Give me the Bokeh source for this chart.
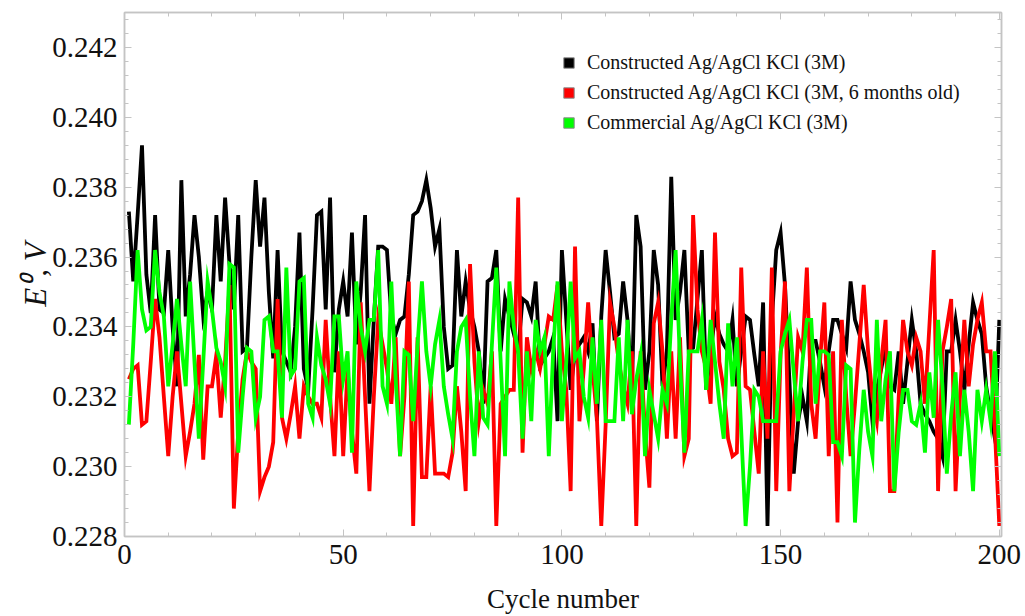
from bokeh.plotting import figure
from bokeh.models import (Range1d, FixedTicker, LinearAxis, Legend, LegendItem)
from bokeh.embed import file_html
from bokeh.resources import INLINE

cycles = list(range(1, 201))

constructed = [
    .2373, .2353, .2372, .2392, .2355, .2344, .2372, .2345, .2344, .2362,
    .2340, .2323, .2382, .2343, .2355, .2372, .2360, .2343, .2350, .2345,
    .2372, .2353, .2377, .2358, .2345, .2372, .2333, .2334, .2360, .2382,
    .2363, .2377, .2350, .2331, .2362, .2333, .2330, .2327, .2340, .2367,
    .2328, .2322, .2345, .2372, .2373, .2345, .2377, .2327, .2345, .2353,
    .2343, .2367, .2335, .2350, .2372, .2318, .2342, .2363, .2363, .2362,
    .2343, .2338, .2342, .2343, .2355, .2372, .2373, .2376, .2382, .2374,
    .2363, .2368, .2340, .2328, .2329, .2362, .2343, .2353, .2345, .2340,
    .2333, .2318, .2353, .2354, .2362, .2333, .2348, .2343, .2338, .2333,
    .2348, .2347, .2343, .2353, .2329, .2331, .2333, .2337, .2313, .2362,
    .2342, .2322, .2333, .2335, .2337, .2333, .2341, .2313, .2343, .2362,
    .2350, .2337, .2338, .2353, .2342, .2322, .2372, .2363, .2322, .2333,
    .2362, .2352, .2323, .2333, .2383, .2342, .2350, .2362, .2333, .2334,
    .2348, .2362, .2322, .2333, .2343, .2338, .2335, .2333, .2342, .2323,
    .2333, .2343, .2342, .2332, .2323, .2347, .2283, .2342, .2362, .2367,
    .2352, .2325, .2298, .2313, .2320, .2313, .2336, .2336, .2330, .2323,
    .2333, .2342, .2342, .2338, .2334, .2353, .2342, .2338, .2333, .2327,
    .2313, .2322, .2328, .2334, .2323, .2322, .2333, .2318, .2330, .2342,
    .2333, .2318, .2315, .2313, .2310, .2308, .2303, .2333, .2333, .2342,
    .2333, .2322, .2335, .2347, .2342, .2338, .2323, .2315, .2308, .2342,
]

aged = [
    .2325, .2328, .2329, .2312, .2313, .2330, .2348, .2337, .2320, .2303,
    .2320, .2333, .2318, .2303, .2310, .2318, .2332, .2302, .2323, .2323,
    .2332, .2314, .2330, .2352, .2288, .2310, .2325, .2333, .2330, .2328,
    .2293, .2297, .2300, .2307, .2348, .2314, .2308, .2315, .2323, .2308,
    .2323, .2320, .2318, .2318, .2314, .2342, .2320, .2303, .2333, .2303,
    .2328, .2310, .2298, .2347, .2320, .2293, .2320, .2342, .2335, .2328,
    .2318, .2337, .2303, .2320, .2353, .2283, .2337, .2297, .2297, .2323,
    .2298, .2298, .2298, .2297, .2304, .2323, .2310, .2293, .2358, .2330,
    .2313, .2322, .2318, .2333, .2283, .2318, .2320, .2322, .2322, .2377,
    .2304, .2337, .2328, .2333, .2328, .2335, .2343, .2342, .2352, .2333,
    .2322, .2293, .2363, .2313, .2328, .2347, .2328, .2314, .2283, .2312,
    .2347, .2340, .2330, .2323, .2318, .2333, .2283, .2333, .2310, .2294,
    .2341, .2347, .2333, .2308, .2333, .2308, .2337, .2303, .2308, .2372,
    .2345, .2333, .2328, .2318, .2367, .2330, .2322, .2308, .2303, .2304,
    .2357, .2323, .2322, .2310, .2298, .2333, .2308, .2357, .2293, .2332,
    .2353, .2293, .2315, .2337, .2333, .2357, .2318, .2308, .2330, .2347,
    .2303, .2333, .2284, .2342, .2320, .2303, .2318, .2335, .2352, .2333,
    .2320, .2313, .2330, .2342, .2293, .2293, .2320, .2342, .2333, .2329,
    .2337, .2333, .2318, .2340, .2362, .2293, .2333, .2340, .2348, .2293,
    .2320, .2342, .2323, .2335, .2342, .2347, .2333, .2333, .2310, .2283,
]

commercial = [
    .2312, .2335, .2362, .2345, .2339, .2340, .2362, .2350, .2343, .2323,
    .2335, .2348, .2335, .2323, .2353, .2330, .2308, .2330, .2353, .2345,
    .2334, .2330, .2323, .2358, .2357, .2304, .2320, .2334, .2333, .2314,
    .2320, .2342, .2343, .2333, .2333, .2314, .2357, .2326, .2328, .2353,
    .2354, .2318, .2314, .2337, .2329, .2325, .2318, .2343, .2343, .2325,
    .2333, .2304, .2353, .2340, .2333, .2342, .2342, .2362, .2323, .2318,
    .2353, .2325, .2303, .2333, .2332, .2313, .2335, .2353, .2333, .2323,
    .2335, .2342, .2323, .2315, .2308, .2333, .2340, .2342, .2320, .2303,
    .2333, .2314, .2312, .2335, .2357, .2330, .2303, .2353, .2340, .2333,
    .2308, .2333, .2313, .2342, .2333, .2337, .2303, .2333, .2353, .2313,
    .2330, .2353, .2331, .2333, .2320, .2314, .2337, .2318, .2342, .2313,
    .2313, .2313, .2337, .2313, .2342, .2315, .2325, .2332, .2303, .2322,
    .2315, .2308, .2322, .2318, .2342, .2362, .2330, .2304, .2333, .2333,
    .2333, .2342, .2322, .2342, .2330, .2318, .2308, .2341, .2323, .2337,
    .2310, .2283, .2300, .2322, .2320, .2313, .2313, .2313, .2313, .2333,
    .2338, .2342, .2327, .2313, .2330, .2342, .2342, .2318, .2333, .2333,
    .2332, .2307, .2307, .2303, .2329, .2328, .2284, .2305, .2322, .2310,
    .2303, .2342, .2313, .2325, .2333, .2293, .2310, .2322, .2322, .2313,
    .2312, .2318, .2304, .2327, .2314, .2342, .2323, .2298, .2315, .2327,
    .2303, .2322, .2310, .2293, .2322, .2313, .2322, .2313, .2333, .2303,
]

series_names = [
    "Constructed Ag/AgCl KCl (3M)",
    "Constructed Ag/AgCl KCl (3M, 6 months old)",
    "Commercial Ag/AgCl KCl (3M)",
]
series_colors = ["#000000", "#FF0000", "#00FF00"]

x_ticks = [0, 50, 100, 150, 200]
x_minor = list(range(0, 201, 10))
y_ticks = [0.228, 0.230, 0.232, 0.234, 0.236, 0.238, 0.240, 0.242]
y_tick_labels = ["0.228", "0.230", "0.232", "0.234", "0.236", "0.238", "0.240", "0.242"]
y_minor = [round(0.228 + 0.0004 * i, 4) for i in range(38)]

FONT = "Liberation Serif"
FRAME = "#C4C4C4"
TXT = "#111111"

p = figure(width=1025, height=616, output_backend="svg", toolbar_location=None,
           x_range=Range1d(0, 200.5), y_range=Range1d(0.228, 0.2430),
           min_border_left=124, min_border_right=24, min_border_top=12,
           min_border_bottom=77, x_axis_location="below", y_axis_location="left")
p.grid.visible = False
p.outline_line_color = FRAME
p.outline_line_width = 1.5
p.background_fill_color = "white"
p.border_fill_color = "white"

xt = FixedTicker(ticks=x_ticks, minor_ticks=x_minor)
yt = FixedTicker(ticks=y_ticks, minor_ticks=y_minor)

for ax in p.xaxis:
    ax.ticker = xt
for ax in p.yaxis:
    ax.ticker = yt
    ax.major_label_overrides = {t: s for t, s in zip(y_ticks, y_tick_labels)}


def style_axis(ax, labels=True):
    ax.axis_line_color = FRAME
    ax.axis_line_width = 1.5
    ax.major_tick_line_color = FRAME
    ax.minor_tick_line_color = FRAME
    ax.major_tick_in = 7
    ax.major_tick_out = 0
    ax.minor_tick_in = 4
    ax.minor_tick_out = 0
    ax.major_label_text_font = FONT
    ax.major_label_text_color = TXT
    if labels:
        ax.major_label_text_font_size = "29px"
    else:
        ax.major_label_text_alpha = 0
        ax.major_label_text_font_size = "1px"
        ax.major_label_standoff = 0


xa = p.xaxis[0]
ya = p.yaxis[0]
style_axis(xa)
style_axis(ya)
xa.major_label_standoff = 8
ya.major_label_standoff = 7

xa.axis_label = "Cycle number"
xa.axis_label_text_font = FONT
xa.axis_label_text_font_size = "27px"
xa.axis_label_text_font_style = "normal"
xa.axis_label_text_color = TXT
xa.axis_label_standoff = 17

ya.axis_label = "E\u2070, V"
ya.axis_label_text_font = FONT
ya.axis_label_text_font_size = "31px"
ya.axis_label_text_font_style = "italic"
ya.axis_label_text_color = TXT
ya.axis_label_standoff = -4

ax_top = LinearAxis(ticker=xt)
style_axis(ax_top, labels=False)
p.add_layout(ax_top, "above")
ax_right = LinearAxis(ticker=yt)
style_axis(ax_right, labels=False)
p.add_layout(ax_right, "right")

for ys, col in zip([constructed, aged, commercial], series_colors):
    p.line(cycles, ys, line_color=col, line_width=3.8, line_join="miter")

# legend swatches (renderers with a single NaN point -> only the swatch shows)
nan = float("nan")
items = []
for name, col in zip(series_names, series_colors):
    r = p.rect(x=[nan], y=[nan], width=1, height=1, fill_color=col,
               line_color="#8A8A8A", line_width=1)
    items.append(LegendItem(label=name, renderers=[r]))

legend = Legend(items=items, location=(438, 402), glyph_width=13, glyph_height=13,
                label_text_font=FONT, label_text_font_size="20px",
                label_text_color=TXT, label_standoff=12, spacing=7,
                padding=0, margin=0, border_line_alpha=0, background_fill_alpha=0)
p.add_layout(legend)

open("out.html", "w").write(file_html(p, INLINE))
